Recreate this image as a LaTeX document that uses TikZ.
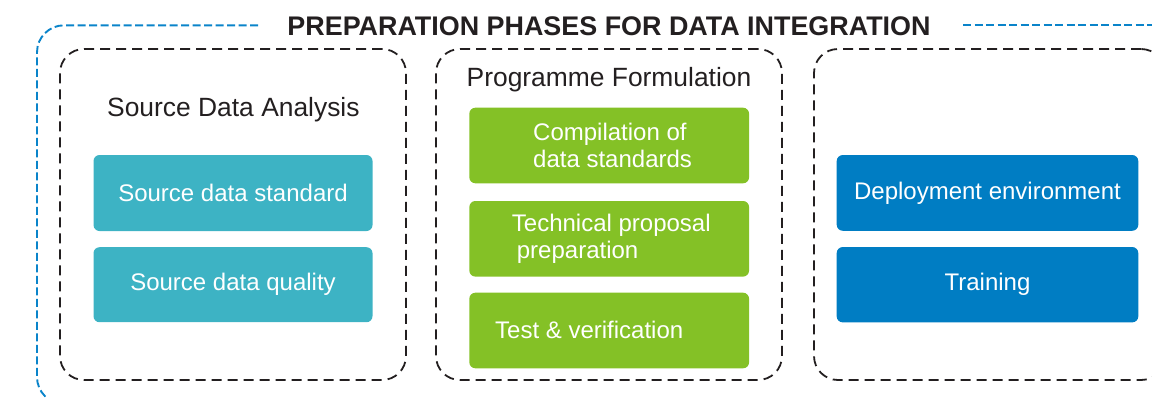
\documentclass[tikz,border=0pt]{standalone}
\usepackage{fontspec}
\setmainfont{Liberation Sans}
\definecolor{dark}{HTML}{231F20}
\definecolor{teal}{HTML}{3DB3C4}
\definecolor{leaf}{HTML}{84C126}
\definecolor{deep}{HTML}{007DC3}
\definecolor{frame}{HTML}{0A84CA}
\begin{document}
\begin{tikzpicture}[x=1pt,y=-1pt,
  panel/.style={draw=dark, line width=1.8pt, dash pattern=on 10pt off 6pt, rounded corners=24pt, minimum height=331pt, inner sep=0pt},
  box/.style={rounded corners=6pt, inner sep=0pt, text=white, font=\fontsize{24}{28}\selectfont},
  gtxt/.style={anchor=base west, inner sep=0pt, text=white, font=\fontsize{24}{28}\selectfont},
  head/.style={anchor=base, inner sep=0pt, text=dark, font=\fontsize{26.4}{30}\selectfont},
  outer/.style={draw=frame, line width=1.9pt, dash pattern=on 8pt off 3.5pt, rounded corners=27pt}]
\useasboundingbox (0,0) rectangle (1152,397);
\clip (0,0) rectangle (1152,397);
% outer frame
\coordinate (fa) at (258,25.3);
\coordinate (fb) at (37,25.3);
\coordinate (fc) at (37,404);
\coordinate (fg) at (120,404);
\coordinate (fd) at (963,25.3);
\coordinate (fe) at (1180,25.3);
\draw[outer] (fa) -- (fb) -- (fc) -- (fg);
\draw[outer] (fd) -- (fe);
\node[anchor=base, inner sep=0pt, text=dark, font=\fontsize{26.9}{30}\selectfont\bfseries] (title) at (609,35) {PREPARATION PHASES FOR DATA INTEGRATION};
% panels
\node[panel, minimum width=346pt] (p1) at (233,214.5) {};
\node[panel, minimum width=346pt] (p2) at (609,214.5) {};
\node[panel, minimum width=351pt] (p3) at (989.5,214.5) {};
% headings
\node[head] (h1) at (233.4,116.7) {Source Data Analysis};
\node[head] (h2) at (609,86.7) {Programme Formulation};
% teal boxes
\node[box, fill=teal, minimum width=279pt, minimum height=76pt] (t1) at (233,193) {Source data standard};
\node[box, fill=teal, minimum width=279pt, minimum height=75pt] (t2) at (233,284.7) {Source data quality};
% green boxes
\node[box, fill=leaf, minimum width=279.7pt, minimum height=75.6pt] (g1) at (609.2,145.5) {};
\node[box, fill=leaf, minimum width=279.7pt, minimum height=75.6pt] (g2) at (609.2,238.8) {};
\node[box, fill=leaf, minimum width=279.7pt, minimum height=75.6pt] (g3) at (609.2,330.5) {};
\node[gtxt] (g1a) at (533,140) {Compilation of};
\node[gtxt] (g1b) at (533,167.7) {data standards};
\node[gtxt] (g2a) at (511.7,231.7) {Technical proposal};
\node[gtxt] (g2b) at (516.7,258.3) {preparation};
\node[gtxt] (g3a) at (495,338.3) {Test \& verification};
% blue boxes
\node[box, fill=deep, minimum width=301.6pt, minimum height=75.7pt] (b1) at (987.5,192.9) {Deployment environment};
\node[box, fill=deep, minimum width=301.6pt, minimum height=75.3pt] (b2) at (987.5,284.7) {Training};
\end{tikzpicture}
\end{document}
